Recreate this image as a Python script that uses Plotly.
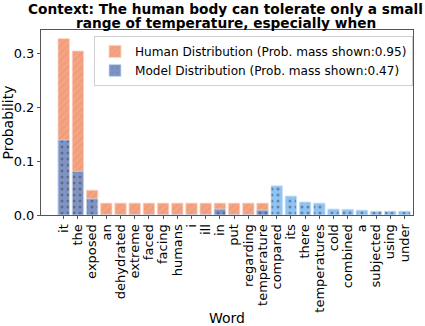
import plotly.graph_objects as go

# word distribution for the given context
words = ['it', 'the', 'exposed', 'an', 'dehydrated', 'extreme', 'faced', 'facing',
         'humans', 'i', 'ill', 'in', 'put', 'regarding', 'temperature', 'compared',
         'its', 'there', 'temperatures', 'cold', 'combined', 'a', 'subjected', 'using', 'under']
human_prob = [0.327, 0.304, 0.046, 0.022, 0.022, 0.022, 0.022, 0.022,
              0.022, 0.022, 0.022, 0.022, 0.022, 0.022, 0.022, 0,
              0, 0, 0, 0, 0, 0, 0, 0, 0]
model_prob = [0.139, 0.081, 0.030, 0, 0, 0, 0, 0,
              0, 0, 0, 0.011, 0, 0, 0.009, 0.054,
              0.035, 0.024, 0.022, 0.011, 0.0105, 0.009, 0.007, 0.007, 0.007]
title_lines = ['Context: The human body can tolerate only a small',
               'range of temperature, especially when']

# bars of the model that sit over a human bar look darker (mix of the two)
model_colors = ['#7f93c4' if h > 0 else '#8ec3f5' for h in human_prob]

fig = go.Figure()
fig.add_trace(go.Bar(
    x=words, y=human_prob, width=0.8,
    name='Human Distribution (Prob. mass shown:0.95)',
    marker=dict(color='#f4a483', line=dict(width=0.8, color='#fbd3c2'),
                pattern=dict(shape='/', fgcolor='#e88a68', size=5, solidity=0.25)),
))
fig.add_trace(go.Bar(
    x=words, y=model_prob, width=0.8,
    name='Model Distribution (Prob. mass shown:0.47)',
    marker=dict(color=model_colors, line=dict(width=0.8, color='#c4dff8'),
                pattern=dict(shape='.', fgcolor='#6a80a8', size=6, solidity=0.2)),
))

# two-line bold title, lines placed separately for tighter spacing
for i, line in enumerate(title_lines):
    fig.add_annotation(text='<b>' + line + '</b>', xref='paper', yref='paper',
                       x=0.497, y=1, xanchor='center', yanchor='middle',
                       yshift=21 - 14 * i, showarrow=False, font=dict(size=13.7))

fig.update_layout(
    width=425, height=326,
    barmode='overlay',
    plot_bgcolor='white', paper_bgcolor='white',
    font=dict(family='DejaVu Sans', size=13, color='black'),
    margin=dict(l=41, r=12, t=30, b=111),
    legend=dict(x=1.0, y=0.968, xanchor='right', yanchor='top',
                bordercolor='#d0d0d0', borderwidth=1, bgcolor='rgba(255,255,255,0.8)',
                font=dict(size=12.1), tracegroupgap=0),
    xaxis=dict(title=dict(text='Word', font=dict(size=14), standoff=3),
               tickangle=-90, range=[-1.6, 24.6], showline=True, linecolor='#555',
               mirror=True, ticks='outside', ticklen=3, tickcolor='#555',
               tickmode='linear', dtick=1, automargin=False,
               tickfont=dict(size=13)),
    yaxis=dict(title=dict(text='Probability', font=dict(size=14), standoff=4),
               range=[0, 0.343], tickvals=[0, 0.1, 0.2, 0.3], tickformat='.1f',
               showline=True, linecolor='#555', mirror=True, ticks='outside',
               ticklen=3, tickcolor='#555', showgrid=False, zeroline=False,
               automargin=False, tickfont=dict(size=13)),
)

# the browser's default 8px body margin would shift the figure
fig.write_html('out.html', config={'displayModeBar': False},
               post_script="document.body.style.margin='0';")
